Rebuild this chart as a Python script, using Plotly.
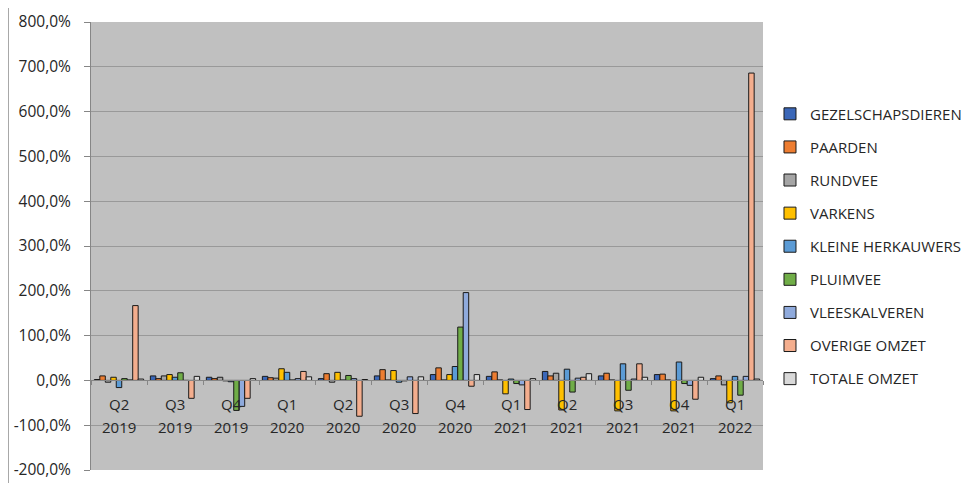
import plotly.graph_objects as go

quarters = ["Q2", "Q3", "Q4", "Q1", "Q2", "Q3", "Q4", "Q1", "Q2", "Q3", "Q4", "Q1"]
years = ["2019", "2019", "2019", "2020", "2020", "2020", "2020", "2021", "2021", "2021", "2021", "2022"]
categories = [q + " " + y for q, y in zip(quarters, years)]

series_names = ["GEZELSCHAPSDIEREN", "PAARDEN", "RUNDVEE", "VARKENS", "KLEINE HERKAUWERS",
                "PLUIMVEE", "VLEESKALVEREN", "OVERIGE OMZET", "TOTALE OMZET"]

gezelschapsdieren = [2, 10, 7, 9, 4, 10, 13, 9, 20, 10, 13, 4]
paarden = [10, 4, 4, 6, 15, 24, 28, 19, 10, 16, 14, 10]
rundvee = [-4, 10, 7, 5, -4, 1, 1, 1, 16, 1, 1, -10]
varkens = [7, 13, -1, 26, 18, 22, 13, -30, -66, -68, -68, -50]
kleine_herkauwers = [-16, 7, -3, 18, 1, -4, 31, 3, 25, 37, 41, 9]
pluimvee = [4, 17, -67, 1, 11, -1, 119, -7, -26, -22, -7, -33]
vleeskalveren = [1, 0, -58, 4, 4, 8, 196, -10, 5, 3, -11, 9]
overige_omzet = [167, -40, -40, 20, -80, -74, -13, -65, 7, 37, -42, 686]
totale_omzet = [3, 9, 4, 8, 2, 8, 13, 4, 15, 7, 7, 3]

series_values = [gezelschapsdieren, paarden, rundvee, varkens, kleine_herkauwers,
                 pluimvee, vleeskalveren, overige_omzet, totale_omzet]
series_colors = ["#3B67B8", "#ED7D31", "#A5A5A5", "#FFC000", "#5B9BD5",
                 "#70AD47", "#8FAADC", "#F4AE8E", "#D9D9D9"]

y_tickvals = [-200, -100, 0, 100, 200, 300, 400, 500, 600, 700, 800]
y_ticktext = ["-200,0%", "-100,0%", "0,0%", "100,0%", "200,0%", "300,0%",
              "400,0%", "500,0%", "600,0%", "700,0%", "800,0%"]

FONT = "Open Sans"
TXT = "#262626"
AX = "#868686"

fig = go.Figure()
for name, vals, col in zip(series_names, series_values, series_colors):
    fig.add_trace(go.Bar(
        x=categories, y=vals, name=name, legendgroup=name,
        marker=dict(color=col, line=dict(color="#1a1a1a", width=1)),
    ))

annotations = []
for cat, q, yr in zip(categories, quarters, years):
    annotations.append(dict(x=cat, y=0, xref="x", yref="y", text=q, showarrow=False,
                            yanchor="middle", yshift=-24, font=dict(family=FONT, size=15, color=TXT)))
    annotations.append(dict(x=cat, y=0, xref="x", yref="y", text=yr, showarrow=False,
                            yanchor="middle", yshift=-46.5, font=dict(family=FONT, size=15, color=TXT)))

# page body has an 8px margin, so the figure is 968x475 placed at (8, 8)
fig.update_layout(
    width=968, height=475,
    margin=dict(l=83, r=213, t=14, b=13, autoexpand=False),
    paper_bgcolor="white", plot_bgcolor="#C0C0C0",
    barmode="group", bargap=0.12, bargroupgap=0,
    font=dict(family=FONT, size=15, color=TXT),
    xaxis=dict(type="category", categoryorder="array", categoryarray=categories,
               anchor="free", position=0.2, showline=True, linecolor=AX, linewidth=1,
               ticks="outside", ticklen=4, tickcolor=AX, tickson="boundaries",
               showticklabels=False, showgrid=False, zeroline=False, automargin=False),
    yaxis=dict(range=[-200, 800], tickvals=y_tickvals, ticktext=y_ticktext,
               showline=True, linecolor=AX, linewidth=1, ticks="outside", ticklen=6,
               tickcolor=AX, showgrid=True, gridcolor="#999999", gridwidth=1,
               zeroline=False, ticklabelstandoff=10, automargin=False,
               tickfont=dict(family=FONT, size=15.5, color=TXT)),
    legend=dict(x=1.0104, xanchor="left", y=0.8313, yanchor="top",
                font=dict(family=FONT, size=15, color=TXT),
                tracegroupgap=10.6, traceorder="grouped", bgcolor="rgba(0,0,0,0)"),
    annotations=annotations,
    shapes=[dict(type="line", xref="paper", yref="paper", x0=-0.1228, x1=-0.1228,
                 y0=-0.05, y1=1.07, line=dict(color="#A6A6A6", width=1))],
    showlegend=True,
)

fig.write_html("out.html")
